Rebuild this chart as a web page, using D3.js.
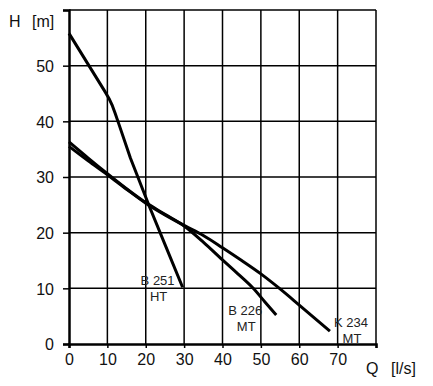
<!DOCTYPE html>
<html><head><meta charset="utf-8">
<script src="https://cdn.jsdelivr.net/npm/d3@7"></script>
<style>body{margin:0;background:#fff}svg{display:block}text{font-family:"Liberation Sans",Arial,sans-serif}</style>
</head><body>
<svg id="c" width="433" height="386"></svg>
<script>
const xTicks = [0,10,20,30,40,50,60,70];
const yTicks = [0,10,20,30,40,50];
const seriesNames = ["B 251 HT","B 226 MT","K 234 MT"];
const b251 = [[0,55.8],[9.5,45.2],[10.5,44.0],[11.3,42.8],[12,41.5],[13,39.5],[16,33.4],[21,24.6],[25,17.9],[29.6,10.2]];
const b226 = [[0,36.3],[5,33.4],[10,30.6],[15,27.9],[20,25.4],[25,23.3],[30,21.2],[35,18.3],[40,15.1],[44,12.6],[48,10.0],[51,7.6],[54,5.2]];
const k234 = [[0,35.5],[5,32.9],[10,30.4],[15,27.8],[20,25.3],[25,23.2],[30,21.3],[35,19.5],[40,17.3],[45,15.0],[50,12.6],[55,9.9],[60,7.0],[68,2.3]];
const labelLines = [["B 251","HT"],["B 226","MT"],["K 234","MT"]];

const svg = d3.select("#c");
const x = d3.scaleLinear().domain([0,80]).range([69,376]);
const y = d3.scaleLinear().domain([0,60]).range([344,10]);

// grid
const g = svg.append("g");
g.selectAll(".vg").data(d3.range(10,81,10)).join("line")
  .attr("x1",d=>x(d)).attr("x2",d=>x(d)).attr("y1",y(0)).attr("y2",y(60))
  .attr("stroke","#000").attr("stroke-width",1.5);
g.selectAll(".hg").data(d3.range(10,61,10)).join("line")
  .attr("x1",x(0)).attr("x2",x(80)).attr("y1",d=>y(d)).attr("y2",d=>y(d))
  .attr("stroke","#000").attr("stroke-width",1.5);

// axes
const xAxis = d3.axisBottom(x).tickValues(xTicks.concat([80])).tickSize(4).tickFormat(d=>xTicks.includes(d)?d:"");
const yAxis = d3.axisLeft(y).tickValues(yTicks.concat([60])).tickSize(6).tickFormat(d=>yTicks.includes(d)?d:"");
const xa = svg.append("g").attr("transform",`translate(0,${y(0)})`).call(xAxis);
const ya = svg.append("g").attr("transform",`translate(${x(0)},0)`).call(yAxis);
[xa,ya].forEach(a=>{
  a.select(".domain").attr("stroke","#000").attr("stroke-width",2.5);
  a.selectAll(".tick line").attr("stroke","#000").attr("stroke-width",1.5);
  a.selectAll("text").attr("font-size",16).attr("fill","#111").attr("font-family","Liberation Sans, Arial, sans-serif");
});
xa.selectAll(".tick text").attr("dy",0).attr("y",21);
ya.selectAll(".tick text").attr("x",-15).attr("dy","0.36em");

// axis titles
svg.append("text").attr("x",9).attr("y",27).attr("font-size",16).attr("fill","#111").text("H");
svg.append("text").attr("x",32).attr("y",27).attr("font-size",16).attr("fill","#111").text("[m]");
svg.append("text").attr("x",366).attr("y",374).attr("font-size",16).attr("fill","#111").text("Q");
svg.append("text").attr("x",391).attr("y",374).attr("font-size",16).attr("fill","#111").text("[l/s]");

// curves
const straight = d3.line().x(d=>x(d[0])).y(d=>y(d[1])).curve(d3.curveLinear);
const smooth = d3.line().x(d=>x(d[0])).y(d=>y(d[1])).curve(d3.curveMonotoneX);
[[b251,straight],[b226,smooth],[k234,smooth]].forEach(([s,gen])=>{
  svg.append("path").attr("d",gen(s)).attr("fill","none").attr("stroke","#000")
    .attr("stroke-width",3).attr("stroke-linejoin","round");
});

// curve labels, anchored to curve end points
const ends = [b251[b251.length-1], b226[b226.length-1], k234[k234.length-1]];
const offs = [[-25,-2],[-31,0],[21,-4]];
labelLines.forEach((lines,i)=>{
  const e = ends[i];
  const cx = x(e[0])+offs[i][0], cy = y(e[1])+offs[i][1];
  lines.forEach((t,j)=>{
    svg.append("text").attr("x",cx+(j?1:0)).attr("y",cy+j*16).attr("text-anchor","middle")
      .attr("font-size",13).attr("fill","#222").text(t);
  });
});
</script>
</body></html>
